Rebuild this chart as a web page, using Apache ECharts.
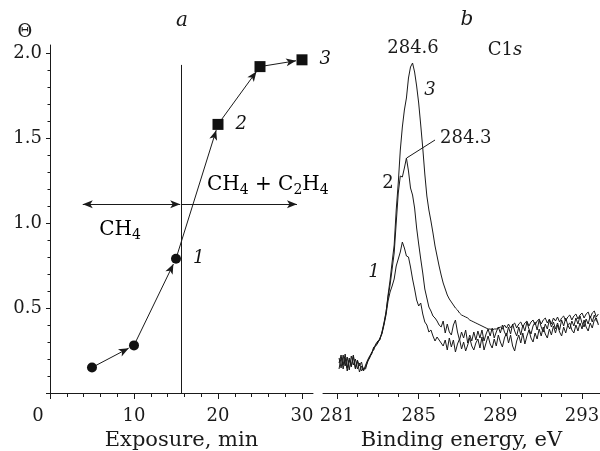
<!DOCTYPE html>
<html>
<head>
<meta charset="utf-8">
<script src="https://cdn.jsdelivr.net/npm/echarts@6/dist/echarts.min.js"></script>
<style>
html, body { margin: 0; padding: 0; background: #fff; }
#chart { width: 600px; height: 451px; }
</style>
</head>
<body>
<div id="chart"></div>
<script>
// (a) coverage vs exposure
var exposure = [5, 10, 15, 20, 25, 30];
var theta = [0.15, 0.28, 0.79, 1.58, 1.92, 1.96];
var pointLabels = ['', '', '1', '2', '', '3'];
var regimeSwitch = 15.6;      // vertical line, min
var regimeLevel = 1.11;       // level of the double arrows
var regimeSpan = [3.9, 15.5, 29.4];

// (b) C1s spectra, binding energy in eV, intensity in arb. units
var energy = [
  281.1,281.2,281.3,281.4,281.5,281.6,281.7,281.8,281.9,282.0,
  282.1,282.2,282.3,282.4,282.5,282.6,282.7,282.8,282.9,283.0,
  283.1,283.2,283.3,283.4,283.5,283.6,283.7,283.8,283.9,284.0,
  284.1,284.2,284.3,284.4,284.5,284.6,284.7,284.8,284.9,285.0,
  285.1,285.2,285.3,285.4,285.5,285.6,285.7,285.8,285.9,286.0,
  286.1,286.2,286.3,286.4,286.5,286.6,286.7,286.8,286.9,287.0,
  287.1,287.2,287.3,287.4,287.5,287.6,287.7,287.8,287.9,288.0,
  288.1,288.2,288.3,288.4,288.5,288.6,288.7,288.8,288.9,289.0,
  289.1,289.2,289.3,289.4,289.5,289.6,289.7,289.8,289.9,290.0,
  290.1,290.2,290.3,290.4,290.5,290.6,290.7,290.8,290.9,291.0,
  291.1,291.2,291.3,291.4,291.5,291.6,291.7,291.8,291.9,292.0,
  292.1,292.2,292.3,292.4,292.5,292.6,292.7,292.8,292.9,293.0,
  293.1,293.2,293.3,293.4,293.5,293.6,293.7,293.8
];
var spectrum1 = [
  30,38,24,35,22,33,27,37,24,32,
  21,27,23,26,31,36,39,45,47,50,
  55,59,68,78,92,101,107,114,127,134,
  141,151,145,137,136,126,114,104,93,87,
  90,79,71,68,61,63,57,52,56,53,
  50,47,53,43,55,46,53,41,49,54,
  44,51,42,48,55,47,43,50,54,45,
  56,43,50,57,49,45,54,47,58,51,
  46,55,60,50,58,47,42,52,58,50,
  60,49,57,63,55,51,60,54,64,57,
  66,59,55,64,58,67,60,68,61,57,
  66,60,68,70,63,60,68,62,70,64,
  73,66,62,70,65,73,75,68
];
var spectrum2 = [
  35,25,38,27,36,23,37,28,34,24,
  30,22,25,24,32,35,41,43,49,52,
  53,61,70,81,96,108,124,140,170,200,
  217,216,225,235,222,205,198,185,165,149,
  134,120,104,95,86,82,77,75,72,68,
  66,72,60,69,61,58,68,73,61,53,
  61,55,63,50,58,52,61,53,62,55,
  63,52,59,64,57,65,55,61,66,60,
  68,61,57,66,59,69,62,57,66,58,
  68,62,71,64,59,67,71,63,73,66,
  61,69,64,73,66,71,64,70,63,73,
  67,75,68,64,72,67,75,69,77,70,
  66,74,69,77,71,78,72,70
];
var spectrum3 = [
  24,36,28,39,25,35,26,38,25,33,
  27,31,22,28,33,37,40,46,48,51,
  54,60,69,80,98,113,131,148,183,210,
  243,266,283,295,315,326,330,321,307,290,
  268,245,219,197,183,172,160,147,137,127,
  118,110,104,98,94,91,88,85,83,80,
  78,77,76,75,73,72,71,70,69,68,
  67,66,65,64,64,63,64,64,65,66,
  64,68,65,69,65,68,70,65,69,71,
  66,70,72,67,71,73,68,72,74,69,
  73,75,70,74,69,75,72,76,71,75,
  77,72,76,78,73,77,79,74,78,80,
  75,79,81,75,80,82,76,79
];
var curveLabels = ['1', '2', '3'];
var energyTicks = [281, 285, 289, 293];
var peak2Leader = [[284.41, 235], [285.80, 253]];

var FONT = '"DejaVu Serif", serif';
var INK = '#1a1a1a';
var chart = echarts.init(document.getElementById('chart'), null, {renderer: 'canvas'});

function lineOnlyAxis(grid, min, max, name) {
  return {
    type: 'value', gridIndex: grid, min: min, max: max,
    axisLine: {show: true, lineStyle: {color: INK, width: 1}},
    axisTick: {show: false}, axisLabel: {show: false}, splitLine: {show: false},
    name: name || '', nameLocation: 'middle', nameGap: 37,
    nameTextStyle: {color: INK, fontFamily: FONT, fontSize: 21}
  };
}

var pointData = exposure.map(function (x, i) {
  return {
    value: [x, theta[i]],
    symbol: i < 3 ? 'circle' : 'rect',
    symbolSize: i < 3 ? 10 : 11,
    label: {show: pointLabels[i] !== '', formatter: pointLabels[i]}
  };
});

var chemRich = {
  m: {fontFamily: FONT, fontSize: 20, color: INK, lineHeight: 24},
  s: {fontFamily: FONT, fontSize: 14, color: INK, lineHeight: 14, padding: [11, 0, 0, 0]}
};

var option = {
  animation: false,
  backgroundColor: '#fff',
  grid: [
    {left: 50, top: 45, width: 263, height: 348, outerBoundsMode: 'none', containLabel: false},
    {left: 50, top: 53, width: 252, height: 340, outerBoundsMode: 'none', containLabel: false},
    {left: 323, top: 45, width: 277, height: 348, outerBoundsMode: 'none', containLabel: false},
    {left: 337, top: 45, width: 265.46, height: 348, outerBoundsMode: 'none', containLabel: false}
  ],
  xAxis: [
    lineOnlyAxis(0, 0, 31.31, 'Exposure, min'),
    {
      type: 'value', gridIndex: 1, min: 0, max: 30, interval: 10,
      axisLine: {show: false},
      axisTick: {show: true, length: 6, lineStyle: {color: INK}},
      minorTick: {show: true, splitNumber: 5, length: 4, lineStyle: {color: INK}},
      splitLine: {show: false}, minorSplitLine: {show: false},
      axisLabel: {
        margin: 14, color: INK, fontFamily: FONT, fontSize: 18,
        formatter: function (v) { return v === 0 ? '{z|0}' : String(v); },
        rich: {z: {fontFamily: FONT, fontSize: 18, color: INK, padding: [0, 24, 0, 0]}}
      }
    },
    lineOnlyAxis(2, 280.3144, 293.8795, 'Binding energy, eV'),
    {
      type: 'value', gridIndex: 3, min: 281, max: 294, interval: 4,
      axisLine: {show: false},
      axisTick: {show: true, length: 6, lineStyle: {color: INK}},
      minorTick: {show: true, splitNumber: 4, length: 4, lineStyle: {color: INK}},
      splitLine: {show: false}, minorSplitLine: {show: false},
      axisLabel: {
        margin: 14, color: INK, fontFamily: FONT, fontSize: 18, showMaxLabel: false,
        formatter: function (v) { return energyTicks.indexOf(v) >= 0 ? String(v) : ''; }
      }
    }
  ],
  yAxis: [
    lineOnlyAxis(0, 0, 2.0471),
    {
      type: 'value', gridIndex: 1, min: 0, max: 2, interval: 0.5,
      axisLine: {show: false},
      axisTick: {show: true, length: 4, lineStyle: {color: INK}},
      minorTick: {show: true, splitNumber: 5, length: 2.5, lineStyle: {color: INK}},
      splitLine: {show: false}, minorSplitLine: {show: false},
      axisLabel: {
        margin: 8, color: INK, fontFamily: FONT, fontSize: 18, showMinLabel: false,
        formatter: function (v) { return v.toFixed(1); }
      }
    },
    {type: 'value', gridIndex: 2, min: 0, max: 348, show: false},
    {type: 'value', gridIndex: 3, min: 0, max: 348, show: false}
  ],
  series: [
    {
      // guide lines and arrows of panel a
      id: 'guides', type: 'scatter', xAxisIndex: 0, yAxisIndex: 0, data: [], z: 1,
      markLine: {
        silent: true, symbol: 'none', precision: 4,
        label: {show: false},
        lineStyle: {color: INK, width: 1, type: 'solid'},
        data: []
      }
    },
    {
      type: 'scatter', xAxisIndex: 0, yAxisIndex: 0, z: 5,
      itemStyle: {color: '#111', opacity: 1},
      label: {position: 'right', distance: 12, color: '#111', fontFamily: FONT, fontSize: 18, fontStyle: 'italic'},
      data: pointData
    },
    {
      type: 'line', xAxisIndex: 2, yAxisIndex: 2, showSymbol: false, clip: false,
      lineStyle: {color: INK, width: 1}, data: energy.map(function (e, i) { return [e, spectrum1[i]]; })
    },
    {
      type: 'line', xAxisIndex: 2, yAxisIndex: 2, showSymbol: false, clip: false,
      lineStyle: {color: INK, width: 1}, data: energy.map(function (e, i) { return [e, spectrum2[i]]; }),
      markLine: {
        silent: true, symbol: 'none', label: {show: false},
        lineStyle: {color: INK, width: 1, type: 'solid'},
        data: [[{coord: peak2Leader[0]}, {coord: peak2Leader[1]}]]
      }
    },
    {
      type: 'line', xAxisIndex: 2, yAxisIndex: 2, showSymbol: false, clip: false,
      lineStyle: {color: INK, width: 1}, data: energy.map(function (e, i) { return [e, spectrum3[i]]; })
    }
  ],
  graphic: [
    {type: 'text', x: 182, y: 21, style: {text: 'a', font: 'italic 20px ' + FONT, fill: INK, align: 'center', verticalAlign: 'middle'}},
    {type: 'text', x: 467, y: 20, style: {text: 'b', font: 'italic 20px ' + FONT, fill: INK, align: 'center', verticalAlign: 'middle'}},
    {type: 'text', x: 25, y: 32, style: {text: 'Θ', font: '18px ' + FONT, fill: INK, align: 'center', verticalAlign: 'middle'}},
    {type: 'text', x: 207, y: 185, style: {text: '{m|CH}{s|4}{m| + C}{s|2}{m|H}{s|4}', rich: chemRich, align: 'left', verticalAlign: 'middle'}},
    {type: 'text', x: 120, y: 230, style: {text: '{m|CH}{s|4}', rich: chemRich, align: 'center', verticalAlign: 'middle'}},
    {type: 'text', x: 413, y: 48, style: {text: '284.6', font: '18px ' + FONT, fill: INK, align: 'center', verticalAlign: 'middle'}},
    {type: 'text', x: 440, y: 138, style: {text: '284.3', font: '18px ' + FONT, fill: INK, align: 'left', verticalAlign: 'middle'}},
    {type: 'text', x: 505, y: 50, style: {
      text: '{r|C1}{i|s}', align: 'center', verticalAlign: 'middle',
      rich: {r: {font: '18px ' + FONT, fill: INK}, i: {font: 'italic 18px ' + FONT, fill: INK}}
    }},
    {type: 'text', x: 374, y: 272, style: {text: curveLabels[0], font: 'italic 18px ' + FONT, fill: INK, align: 'center', verticalAlign: 'middle'}},
    {type: 'text', x: 388, y: 183, style: {text: curveLabels[1], font: '18px ' + FONT, fill: INK, align: 'center', verticalAlign: 'middle'}},
    {type: 'text', x: 430, y: 90, style: {text: curveLabels[2], font: 'italic 18px ' + FONT, fill: INK, align: 'center', verticalAlign: 'middle'}}
  ]
};

chart.setOption(option);

// arrows between successive points, stopped at the marker edge
var guideLines = [
  [{coord: [regimeSwitch, 0]}, {coord: [regimeSwitch, 1.93]}],
  [{coord: [regimeSpan[0], regimeLevel], symbol: 'arrow', symbolSize: [6, 10]},
   {coord: [regimeSpan[1], regimeLevel], symbol: 'arrow', symbolSize: [6, 10]}],
  [{coord: [regimeSwitch, regimeLevel], symbol: 'none'},
   {coord: [regimeSpan[2], regimeLevel], symbol: 'arrow', symbolSize: [6, 10]}]
];
for (var i = 0; i < exposure.length - 1; i++) {
  var p0 = chart.convertToPixel({gridIndex: 0}, [exposure[i], theta[i]]);
  var p1 = chart.convertToPixel({gridIndex: 0}, [exposure[i + 1], theta[i + 1]]);
  var dx = p1[0] - p0[0], dy = p1[1] - p0[1];
  var d = Math.sqrt(dx * dx + dy * dy);
  var t = 6 / d;
  var end = chart.convertFromPixel({gridIndex: 0}, [p1[0] - dx * t, p1[1] - dy * t]);
  guideLines.push([
    {coord: [exposure[i], theta[i]], symbol: 'none'},
    {coord: end, symbol: 'arrow', symbolSize: [6, 10]}
  ]);
}
chart.setOption({series: [{id: 'guides', markLine: {data: guideLines}}]});
</script>
</body>
</html>
